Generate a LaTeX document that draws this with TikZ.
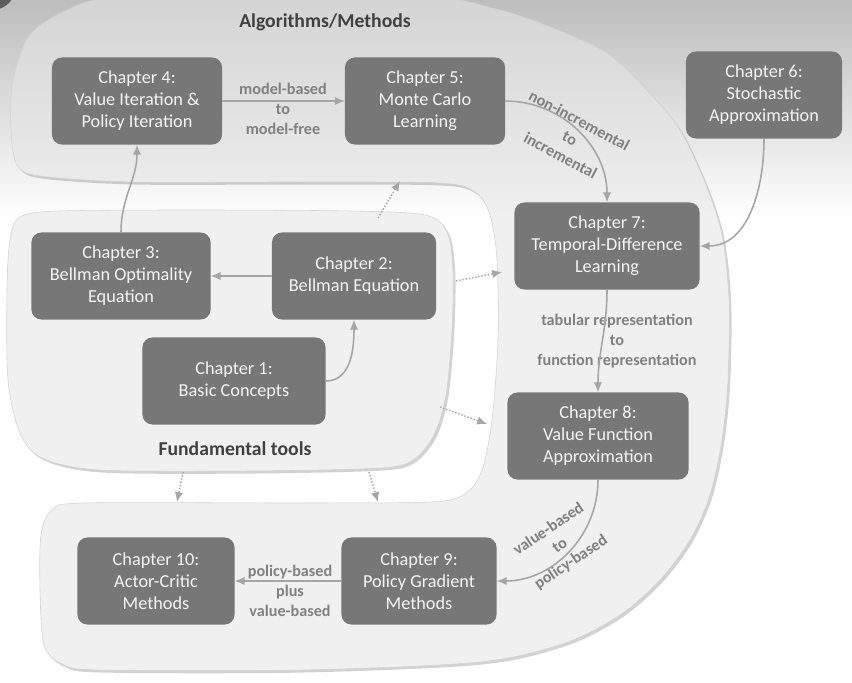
\documentclass[tikz,border=0pt]{standalone}
\usepackage{fontspec}
\setmainfont{Carlito}
\usetikzlibrary{arrows.meta,shadows}

\definecolor{boxgray}{HTML}{777777}
\definecolor{boxtext}{HTML}{F4F4F4}
\definecolor{arrowgray}{HTML}{A5A5A5}
\definecolor{labelgray}{HTML}{808080}
\definecolor{titlegray}{HTML}{404040}
\definecolor{regionfill}{HTML}{F0F0F0}
\definecolor{regiontop}{HTML}{D3D3D3}
\definecolor{bgtop}{HTML}{BDBDBD}
\pgfdeclareverticalshading{bgfade}{100bp}{color(0bp)=(white); color(59bp)=(white); color(75bp)=(bgtop); color(100bp)=(bgtop)}
\pgfdeclareverticalshading{regionfade}{100bp}{color(0bp)=(regionfill); color(58bp)=(regionfill); color(75bp)=(regiontop); color(100bp)=(regiontop)}

\begin{document}
\begin{tikzpicture}[x=0.025cm,y=-0.025cm,
  chapbox/.style={fill=boxgray,text=boxtext,rounded corners=7pt,align=center,
    minimum height=2.175cm,inner sep=2pt,font=\fontsize{13}{15.7}\selectfont},
  conn/.style={draw=arrowgray,line width=1.1pt,-{Latex[length=7pt,width=6pt]}},
  dotconn/.style={conn,line width=1pt,dash pattern=on 1pt off 1.3pt},
  edgetext/.style={text=labelgray,align=center,font=\bfseries\fontsize{11.5}{14.2}\selectfont},
  regiontitle/.style={text=titlegray,font=\bfseries\fontsize{14}{16}\selectfont},
  region/.style={draw=gray!35,line width=0.4pt,
    drop shadow={shadow xshift=1.6pt,shadow yshift=-1.8pt,opacity=0.35}}]
\useasboundingbox (0,0) rectangle (852,682);
\clip (0,0) rectangle (852,682);
\shade[shading=bgfade] (0,0) rectangle (852,682);
\fill[darkgray!85] (-8,-14) circle (24);

% the regions
\shadedraw[region,shading=regionfade] plot[smooth cycle,tension=0.5] coordinates {
  (67,10) (110,-2) (250,-10) (420,-6) (500,10) (550,27) (605,52) (645,88)
  (680,130) (706,185) (722,235) (729,300) (728,380) (722,440) (710,495)
  (690,540) (660,580) (620,615) (565,643) (480,662) (300,670) (100,670)
  (62,664) (44,645) (40,590) (41,535) (52,510) (85,503) (300,503) (430,502)
  (465,494) (482,470) (492,420) (498,340) (497,260) (490,215) (475,192)
  (440,183) (300,182) (133,182) (40,176) (17,165) (11,130) (13,80) (30,35)};
\filldraw[region,fill=regionfill] plot[smooth cycle,tension=0.5] coordinates {
  (20,217) (60,211) (200,210) (350,211) (425,215) (447,232) (453,270)
  (452,330) (446,395) (434,435) (413,460) (380,468) (250,471) (100,470)
  (42,458) (20,433) (8,380) (7,290) (10,240)};
\node[regiontitle] (algtitle) at (325,22) {Algorithms/Methods};
\node[regiontitle] (fundtitle) at (235,449) {Fundamental tools};

% the chapters
\node[chapbox,minimum width=4.25cm] (ch4) at (137,101) {Chapter 4:\\Value Iteration \&\\Policy Iteration};
\node[chapbox,minimum width=4cm] (ch5) at (425,101) {Chapter 5:\\Monte Carlo\\Learning};
\node[chapbox,minimum width=3.9cm] (ch6) at (764,95) {Chapter 6:\\Stochastic\\Approximation};
\node[chapbox,minimum width=4.475cm] (ch3) at (121,276) {Chapter 3:\\Bellman Optimality\\Equation};
\node[chapbox,minimum width=4.1cm] (ch2) at (354,276) {Chapter 2:\\Bellman Equation};
\node[chapbox,minimum width=4.575cm] (ch1) at (234,381) {Chapter 1:\\Basic Concepts};
\node[chapbox,minimum width=4.625cm] (ch7) at (607,246) {Chapter 7:\\Temporal-Difference\\Learning};
\node[chapbox,minimum width=4.525cm] (ch8) at (598,436) {Chapter 8:\\Value Function\\Approximation};
\node[chapbox,minimum width=3.875cm] (ch9) at (419,581) {Chapter 9:\\Policy Gradient\\Methods};
\node[chapbox,minimum width=3.925cm] (ch10) at (156,581) {Chapter 10:\\Actor-Critic\\Methods};

% the labels
\node[edgetext] (lbl45) at (283,109) {model-based\\to\\model-free};
\node[edgetext,rotate=-28] (lbl57) at (570,138) {non-incremental\\to\\incremental};
\node[edgetext] (lbl78) at (617,341) {tabular representation\\to\\function representation};
\node[edgetext,rotate=34] (lbl89) at (560,546) {value-based\\to\\policy-based};
\node[edgetext] (lbl910) at (290,591) {policy-based\\plus\\value-based};

% the links
\draw[conn] (ch3.north) to[out=90,in=-90] (ch4.south);
\draw[conn] (ch2.west) -- (ch3.east);
\draw[conn] (ch1.east) to[out=0,in=-90] (ch2.south);
\draw[conn] (ch4.east) -- (ch5.west);
\draw[conn] (ch5.east) to[out=0,in=90] (ch7.north);
\draw[conn] (ch6.south) to[out=-90,in=0] (ch7.east);
\draw[conn] (ch7.south) to[out=-90,in=90] (ch8.north);
\draw[conn] (ch8.south) to[out=-90,in=0] (ch9.east);
\draw[conn] (ch9.west) -- (ch10.east);

% dotted links between the regions
\coordinate (d1s) at (378,218); \coordinate (d1e) at (400,181);
\coordinate (d2s) at (456,281); \coordinate (d2e) at (502,272);
\coordinate (d3s) at (440,407); \coordinate (d3e) at (487,424);
\coordinate (d4s) at (183,472); \coordinate (d4e) at (177,502);
\coordinate (d5s) at (369,472); \coordinate (d5e) at (378,502);
\foreach \i in {1,...,5}
  \draw[dotconn] (d\i s) -- (d\i e);
\end{tikzpicture}
\end{document}
